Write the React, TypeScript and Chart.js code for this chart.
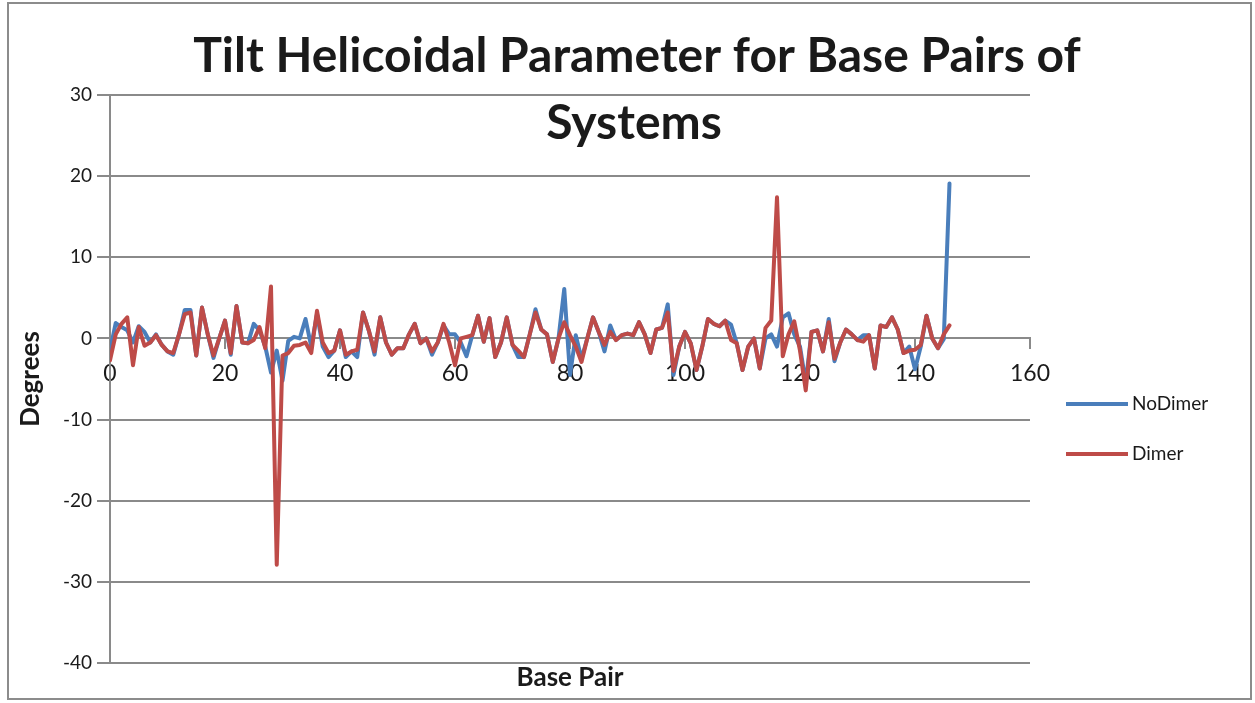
import React, { useEffect, useRef } from "react";
import { Chart, registerables } from "chart.js";

Chart.register(...registerables);

const titleLines = ["Tilt Helicoidal Parameter for Base Pairs of", "Systems"];
const xAxisTitle = "Base Pair";
const yAxisTitle = "Degrees";
const seriesNames = ["NoDimer", "Dimer"];
const seriesColors = ["#4A7EBB", "#BE4B48"];

const noDimer = [
  -1.5, 1.9, 1.4, 1.0, -0.5, 1.5, 0.8, -0.5, 0.5, -0.8, -1.6,
  -2.0, 0.5, 3.5, 3.5, -2.1, 3.8, 0.5, -2.4, 0.0, 2.2,
  -2.0, 4.0, -0.5, -0.6, 1.8, 1.0, -1.0, -4.2, -1.5, -5.2,
  -0.3, 0.2, 0.0, 2.4, -1.0, 3.0, -1.0, -2.3, -1.5, 1.0,
  -2.3, -1.6, -2.3, 3.2, 1.0, -2.0, 2.6, -0.5, -2.0, -1.2,
  -1.2, 0.5, 1.8, -0.6, 0.0, -2.0, -0.5, 1.6, 0.5, 0.5,
  -0.5, -2.2, 0.4, 2.8, -0.4, 2.5, -2.3, -0.5, 2.6, -0.8,
  -2.3, -2.3, 0.5, 3.6, 1.1, 0.5, -2.9, 0.0, 6.1, -4.5,
  0.4, -2.5, 0.0, 2.6, 0.8, -1.6, 1.6, -0.2, 0.4, 0.6,
  0.4, 2.0, 0.5, -1.8, 1.1, 1.3, 4.2, -4.5, -1.0, 0.8,
  -0.6, -3.9, -1.0, 2.4, 1.8, 1.5, 2.2, 1.7, -0.6, -3.9,
  -1.0, 0.0, -3.7, 0.0, 0.5, -1.0, 2.6, 3.1, 0.5, -1.0,
  -5.5, 0.8, 1.0, -1.6, 2.4, -2.8, -0.5, 1.1, 0.5, -0.2,
  0.4, 0.4, -3.7, 1.6, 1.4, 2.6, 1.1, -1.8, -1.0, -3.8,
  -1.0, 2.8, 0.0, -1.2, -0.1, 19.1,
];

const dimer = [
  -2.7, 0.5, 1.8, 2.6, -3.3, 1.4, -0.9, -0.5, 0.4, -0.8, -1.6,
  -1.8, 0.5, 3.0, 3.2, -2.1, 3.8, 0.5, -2.1, 0.0, 2.2,
  -1.8, 4.0, -0.5, -0.6, -0.2, 1.4, -1.2, 6.4, -27.9, -2.1,
  -1.8, -0.9, -0.8, -0.5, -1.8, 3.4, -0.5, -1.8, -1.5, 1.0,
  -2.0, -1.6, -1.4, 3.2, 1.0, -1.6, 2.6, -0.5, -2.0, -1.2,
  -1.2, 0.5, 1.8, -0.6, 0.0, -1.6, -0.5, 1.8, -0.5, -3.3,
  0.0, 0.2, 0.4, 2.8, -0.4, 2.5, -2.3, -0.5, 2.6, -0.8,
  -1.5, -2.3, 0.5, 3.2, 1.1, 0.5, -2.9, 0.0, 2.0, 0.4,
  -1.0, -2.9, 0.0, 2.6, 0.8, -0.8, 0.8, -0.2, 0.4, 0.6,
  0.4, 2.0, 0.5, -1.8, 1.1, 1.3, 3.2, -4.0, -1.0, 0.8,
  -0.6, -3.9, -1.0, 2.4, 1.8, 1.5, 2.2, -0.2, -0.6, -3.9,
  -1.0, 0.0, -3.7, 1.3, 2.2, 17.4, -2.2, 0.5, 2.1, -1.5,
  -6.4, 0.8, 1.0, -1.6, 2.0, -2.5, -0.5, 1.1, 0.5, -0.2,
  -0.4, 0.4, -3.7, 1.6, 1.4, 2.6, 1.1, -1.8, -1.5, -1.4,
  -0.8, 2.8, 0.0, -1.2, 0.5, 1.6,
];

const xTicks = [0, 20, 40, 60, 80, 100, 120, 140, 160];
const yTicks = [-40, -30, -20, -10, 0, 10, 20, 30];

const FONT = "Lato, 'Open Sans', sans-serif";
const TEXT = "#1a1a1a";
const GRID = "#8a8a8a";

const overlay = {
  id: "overlay",
  afterDraw(chart: any) {
    const ctx = chart.ctx;
    const a = chart.chartArea;
    ctx.save();
    ctx.strokeStyle = "#8c8c8c";
    ctx.lineWidth = 2;
    ctx.strokeRect(8, 3, 1243, 696);
    ctx.fillStyle = TEXT;
    ctx.textAlign = "center";
    ctx.textBaseline = "middle";
    ctx.font = `bold 48px ${FONT}`;
    ctx.fillText(titleLines[0], 637, 57);
    ctx.fillText(titleLines[1], 634, 124);
    ctx.font = `bold 26px ${FONT}`;
    ctx.fillText(xAxisTitle, (a.left + a.right) / 2, 678);
    ctx.save();
    ctx.translate(31, (a.top + a.bottom) / 2);
    ctx.rotate(-Math.PI / 2);
    ctx.fillText(yAxisTitle, 0, 0);
    ctx.restore();
    ctx.font = `19px ${FONT}`;
    ctx.textAlign = "left";
    const ys = [404, 454];
    seriesNames.forEach((n, i) => {
      ctx.strokeStyle = seriesColors[i];
      ctx.lineWidth = 4;
      ctx.beginPath();
      ctx.moveTo(1066, ys[i]);
      ctx.lineTo(1128, ys[i]);
      ctx.stroke();
      ctx.fillStyle = TEXT;
      ctx.fillText(n, 1132, ys[i]);
    });
    ctx.restore();
  },
};

export default function App() {
  const ref = useRef<HTMLCanvasElement>(null);
  useEffect(() => {
    document.body.style.margin = "0";
    const toPts = (arr: number[]) => arr.map((v, i) => ({ x: i, y: v }));
    const common = {
      borderWidth: 4,
      pointRadius: 0,
      tension: 0,
      borderCapStyle: "round" as const,
      borderJoinStyle: "round" as const,
    };
    const chart = new Chart(ref.current!, {
      type: "line",
      data: {
        datasets: [
          {
            label: seriesNames[0],
            data: toPts(noDimer),
            borderColor: seriesColors[0],
            backgroundColor: seriesColors[0],
            order: 2,
            ...common,
          },
          {
            label: seriesNames[1],
            data: toPts(dimer),
            borderColor: seriesColors[1],
            backgroundColor: seriesColors[1],
            order: 1,
            ...common,
          },
        ],
      },
      options: {
        animation: false,
        responsive: false,
        devicePixelRatio: 1,
        layout: { padding: { left: 10, right: 225, top: 95, bottom: 40 } },
        plugins: { legend: { display: false }, title: { display: false }, tooltip: { enabled: false } },
        scales: {
          x: {
            type: "linear",
            position: { y: 0 } as any,
            min: 0,
            max: 160,
            afterBuildTicks: (s: any) => {
              s.ticks = xTicks.map((v) => ({ value: v }));
            },
            grid: { display: true, drawOnChartArea: false, drawTicks: true, tickLength: 10, color: GRID, lineWidth: 2 },
            border: { display: true, color: GRID, width: 2 },
            ticks: { color: TEXT, font: { family: FONT, size: 23 }, padding: 11, maxRotation: 0 },
          },
          y: {
            type: "linear",
            min: -40,
            max: 30,
            afterBuildTicks: (s: any) => {
              s.ticks = yTicks.map((v) => ({ value: v }));
            },
            afterFit: (s: any) => {
              s.width = 100;
            },
            grid: { color: GRID, lineWidth: 2, tickLength: 13 },
            border: { display: true, color: GRID, width: 2 },
            ticks: { color: TEXT, font: { family: FONT, size: 19 }, padding: 5 },
          },
        },
      },
      plugins: [overlay],
    });
    return () => chart.destroy();
  }, []);
  return <canvas ref={ref} width={1255} height={703} style={{ display: "block" }} />;
}
